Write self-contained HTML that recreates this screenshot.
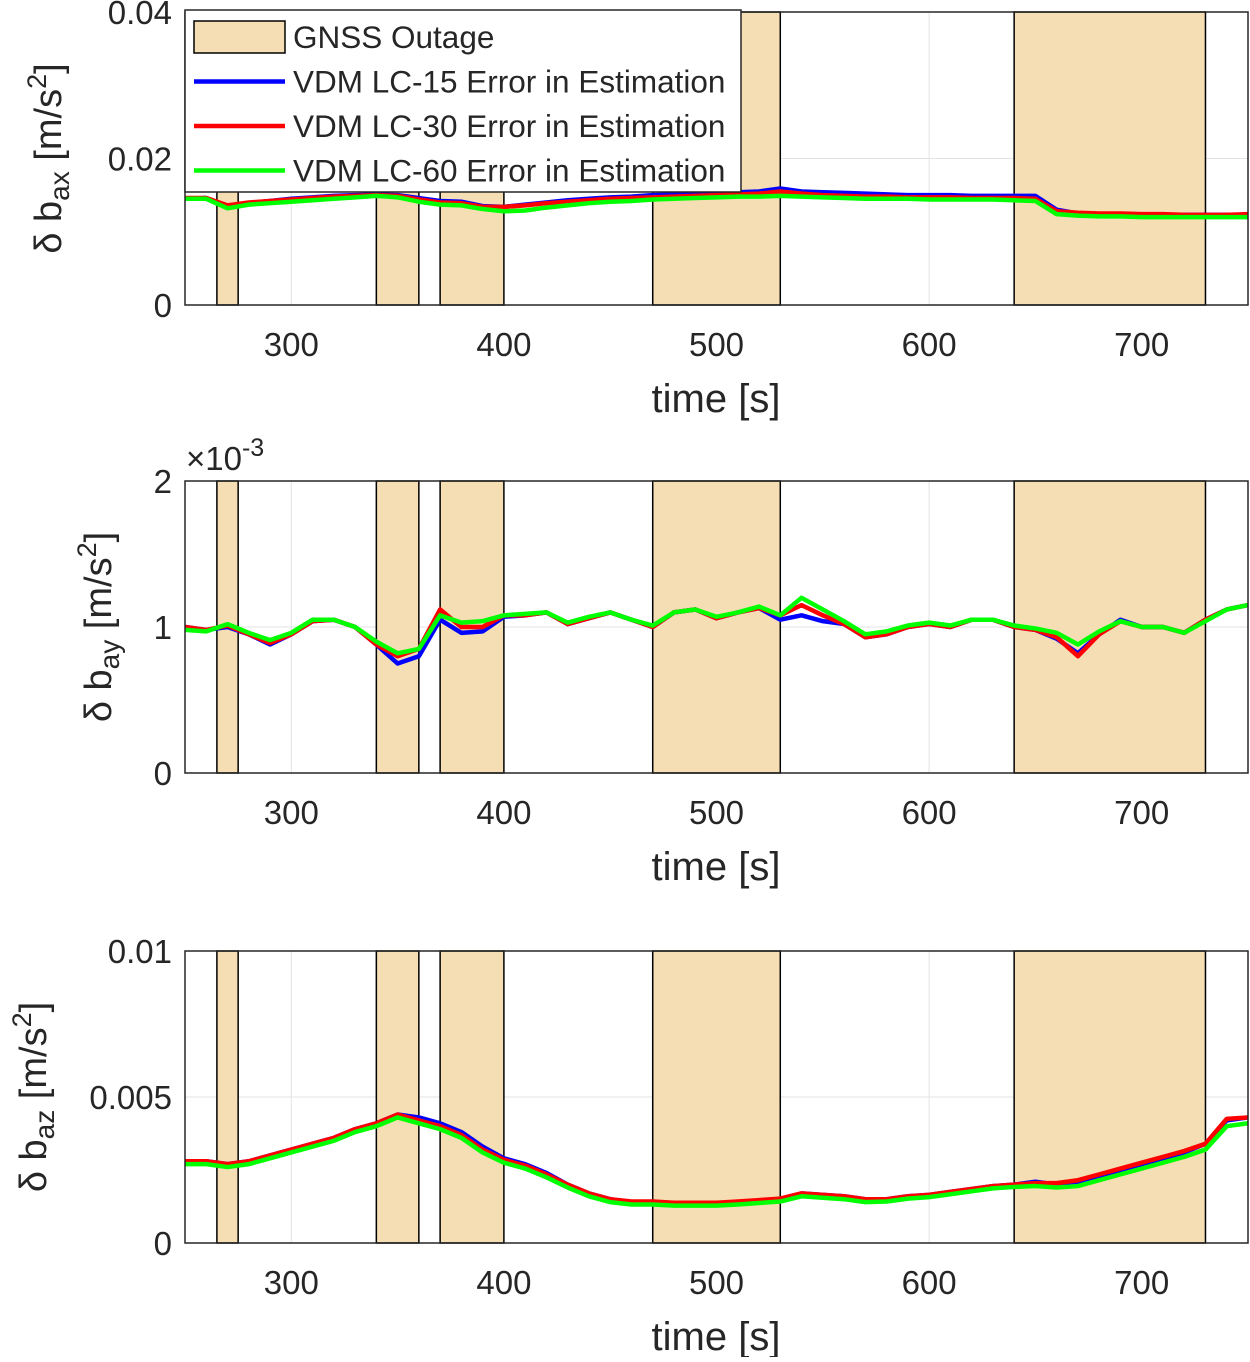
<!DOCTYPE html>
<html><head><meta charset="utf-8"><style>
body{margin:0;background:#fff}
svg text{font-family:"Liberation Sans",sans-serif;fill:#262626}
</style></head><body>
<svg id="c" width="1250" height="1357" xmlns="http://www.w3.org/2000/svg"></svg>
<script>
const times=[250,260,270,280,290,300,310,320,330,340,350,360,370,380,390,400,410,420,430,440,450,460,470,480,490,500,510,520,530,540,550,560,570,580,590,600,610,620,630,640,650,660,670,680,690,700,710,720,730,740,750];
const outages=[[265,275],[340,360],[370,400],[470,530],[640,730]];
const xTicks=[300,400,500,600,700];
// panel 1 (x1e-3)
const ax15=[14.5,14.6,13.4,13.9,14.2,14.5,14.7,14.9,15.0,15.1,15.0,14.6,14.2,14.1,13.5,13.4,13.7,14.0,14.3,14.5,14.7,14.8,15.0,15.1,15.2,15.3,15.4,15.5,15.9,15.5,15.4,15.3,15.2,15.1,15.0,15.0,15.0,14.9,14.9,14.9,14.9,13.0,12.5,12.4,12.4,12.3,12.3,12.3,12.3,12.3,12.3];
const ax30=[14.6,14.6,13.6,14.0,14.2,14.4,14.6,14.8,14.9,15.0,14.9,14.4,14.0,13.9,13.4,13.4,13.6,13.9,14.1,14.3,14.5,14.6,14.7,14.8,14.9,15.0,15.1,15.2,15.5,15.2,15.0,14.9,14.8,14.8,14.7,14.7,14.7,14.6,14.6,14.6,14.5,12.8,12.6,12.5,12.5,12.4,12.4,12.3,12.3,12.3,12.4];
const ax60=[14.5,14.5,13.2,13.7,13.9,14.1,14.3,14.5,14.7,14.9,14.7,14.1,13.7,13.6,13.1,12.8,12.9,13.3,13.6,13.9,14.1,14.2,14.4,14.5,14.6,14.7,14.8,14.8,14.9,14.8,14.7,14.6,14.5,14.5,14.5,14.4,14.4,14.4,14.4,14.3,14.2,12.4,12.2,12.1,12.1,12.0,12.0,12.0,12.0,12.0,12.0];
// panel 2 (x1e-3)
const ay15=[1.00,0.98,1.00,0.95,0.88,0.95,1.04,1.05,1.00,0.88,0.75,0.80,1.05,0.96,0.97,1.07,1.08,1.10,1.02,1.06,1.10,1.05,1.00,1.10,1.12,1.06,1.10,1.13,1.05,1.08,1.04,1.02,0.93,0.95,1.00,1.02,1.00,1.05,1.05,1.00,0.98,0.92,0.82,0.95,1.05,1.00,1.00,0.96,1.05,1.12,1.15];
const ay30=[1.00,0.98,1.01,0.95,0.89,0.95,1.04,1.05,1.00,0.88,0.80,0.85,1.12,1.00,1.00,1.08,1.08,1.10,1.02,1.06,1.10,1.05,1.00,1.10,1.12,1.06,1.10,1.13,1.08,1.15,1.08,1.02,0.93,0.95,1.00,1.02,1.00,1.05,1.05,1.00,0.98,0.93,0.80,0.95,1.04,1.00,1.00,0.96,1.05,1.12,1.15];
const ay60=[0.98,0.97,1.02,0.96,0.91,0.96,1.05,1.05,1.00,0.90,0.82,0.85,1.08,1.03,1.04,1.08,1.09,1.10,1.03,1.07,1.10,1.05,1.01,1.10,1.12,1.07,1.10,1.14,1.08,1.20,1.12,1.04,0.95,0.97,1.01,1.03,1.01,1.05,1.05,1.01,0.99,0.96,0.88,0.97,1.04,1.00,1.00,0.96,1.04,1.12,1.15];
// panel 3 (x1e-3)
const az15=[2.8,2.8,2.7,2.8,3.0,3.2,3.4,3.6,3.9,4.1,4.4,4.3,4.1,3.8,3.3,2.9,2.7,2.4,2.0,1.7,1.5,1.4,1.4,1.35,1.35,1.35,1.4,1.45,1.5,1.7,1.65,1.6,1.5,1.5,1.6,1.65,1.75,1.85,1.95,2.0,2.1,2.0,2.1,2.3,2.5,2.7,2.9,3.1,3.4,4.2,4.3];
const az30=[2.8,2.8,2.7,2.8,3.0,3.2,3.4,3.6,3.9,4.1,4.4,4.2,4.0,3.7,3.2,2.85,2.65,2.35,2.0,1.7,1.5,1.42,1.42,1.38,1.38,1.38,1.42,1.47,1.52,1.7,1.65,1.6,1.5,1.5,1.6,1.65,1.75,1.85,1.95,2.0,2.05,2.05,2.15,2.35,2.55,2.75,2.95,3.15,3.4,4.25,4.3];
const az60=[2.7,2.7,2.6,2.7,2.9,3.1,3.3,3.5,3.8,4.0,4.3,4.1,3.9,3.6,3.1,2.75,2.55,2.25,1.9,1.6,1.4,1.32,1.32,1.28,1.28,1.28,1.32,1.37,1.42,1.6,1.55,1.5,1.4,1.42,1.52,1.57,1.67,1.77,1.87,1.92,1.95,1.9,1.95,2.15,2.35,2.55,2.75,2.95,3.2,4.0,4.1];

const svg=document.getElementById('c');const NS='http://www.w3.org/2000/svg';
function mk(tag,attrs,parent){const e=document.createElementNS(NS,tag);for(const k in attrs)e.setAttribute(k,attrs[k]);(parent||svg).appendChild(e);return e;}
const X0=185,X1=1248;
const xs=v=>X0+(v-250)/500*(X1-X0);
const panels=[
 {top:12,bot:305,ymax:40,ticks:[[0,'0'],[20,'0.02'],[40,'0.04']],series:[ax15,ax30,ax60],ylx:48,sub:'ax',name:'panel-bax'},
 {top:481,bot:773,ymax:2,ticks:[[0,'0'],[1,'1'],[2,'2']],series:[ay15,ay30,ay60],ylx:98,sub:'ay',name:'panel-bay',exp:true},
 {top:951,bot:1243,ymax:10,ticks:[[0,'0'],[5,'0.005'],[10,'0.01']],series:[az15,az30,az60],ylx:33,sub:'az',name:'panel-baz'}
];
const colors=['#0000ff','#ff0000','#00ff00'];
const snames=['series-lc15','series-lc30','series-lc60'];
panels.forEach(p=>{
 const g=mk('g',{});
 
 
 const ys=v=>p.bot-v/p.ymax*(p.bot-p.top);
 mk('rect',{x:X0,y:p.top,width:X1-X0,height:p.bot-p.top,fill:'#fff'},g);
 xTicks.forEach(t=>mk('line',{x1:xs(t),x2:xs(t),y1:p.top,y2:p.bot,stroke:'#e3e3e3','stroke-width':1},g));
 p.ticks.forEach(t=>mk('line',{x1:X0,x2:X1,y1:ys(t[0]),y2:ys(t[0]),stroke:'#e3e3e3','stroke-width':1},g));
 outages.forEach(o=>{const r=mk('rect',{x:xs(o[0]),y:p.top,width:xs(o[1])-xs(o[0]),height:p.bot-p.top,fill:'#f5deb3',stroke:'#000','stroke-width':1.5},g);
  
  });
 p.series.forEach((s,i)=>{const pl=mk('polyline',{points:s.map((v,j)=>xs(times[j])+','+ys(v)).join(' '),fill:'none',stroke:colors[i],'stroke-width':4.5,'stroke-linejoin':'round'},g);
  
  });
 mk('rect',{x:X0,y:p.top,width:X1-X0,height:p.bot-p.top,fill:'none',stroke:'#262626','stroke-width':1.5},g);
 xTicks.forEach(t=>{const tx=mk('text',{x:xs(t),y:p.bot+51,'font-size':33,'text-anchor':'middle'},g);tx.textContent=t;
  
  });
 p.ticks.forEach(t=>{const tx=mk('text',{x:X0-13,y:ys(t[0])+12,'font-size':33,'text-anchor':'end'},g);tx.textContent=t[1];
  
  });
 const xl=mk('text',{x:716,y:p.bot+107,'font-size':40,'text-anchor':'middle'},g);xl.textContent='time [s]';
 
 
 const cy=(p.top+p.bot)/2;
 const yl=mk('text',{x:p.ylx,y:cy,'font-size':38,'text-anchor':'middle',transform:`rotate(-90 ${p.ylx} ${cy})`,dy:13},g);
 yl.innerHTML=`δ b<tspan font-size="28" dy="8">${p.sub}</tspan><tspan dy="-8"> [m/s</tspan><tspan font-size="27" dy="-15">2</tspan><tspan dy="15">]</tspan>`;
 
 
 if(p.exp){const e=mk('text',{x:186,y:470,'font-size':33},g);e.innerHTML='×10<tspan font-size="25" dy="-14">-3</tspan>';
  
  }
});
// legend
const lg=mk('g',{});


mk('rect',{x:185,y:10,width:556,height:182,fill:'#fff',stroke:'#262626','stroke-width':1.5},lg);
const labels=['GNSS Outage','VDM LC-15 Error in Estimation','VDM LC-30 Error in Estimation','VDM LC-60 Error in Estimation'];
labels.forEach((l,i)=>{const y=37+i*44.5;
 if(i===0)mk('rect',{x:194,y:y-16,width:91,height:32,fill:'#f5deb3',stroke:'#000','stroke-width':1.5},lg);
 else mk('line',{x1:194,x2:285,y1:y,y2:y,stroke:colors[i-1],'stroke-width':4.5},lg);
 const t=mk('text',{x:293,y:y+11,'font-size':31.5},lg);t.textContent=l;
 
 
});
</script>
</body></html>
